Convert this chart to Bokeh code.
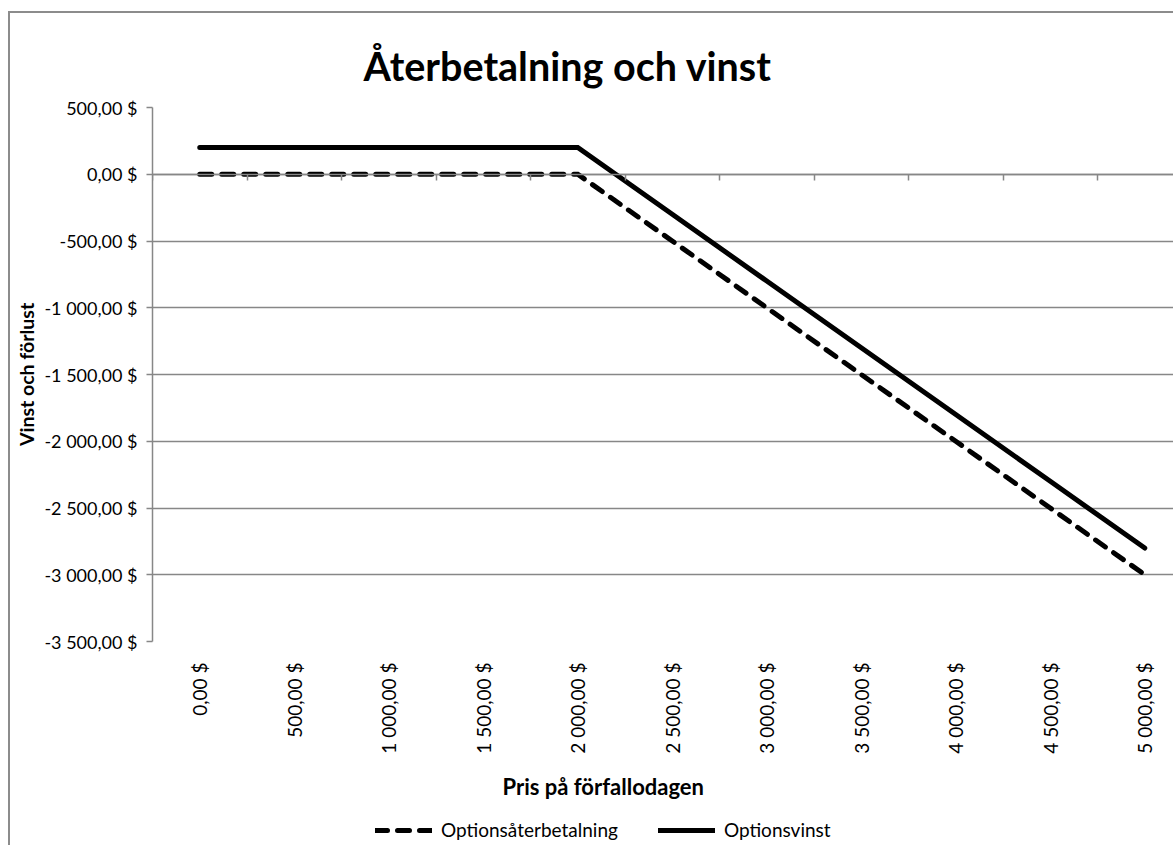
import math
from bokeh.plotting import figure
from bokeh.models import Range1d, FixedTicker, LinearAxis, Legend, LegendItem, Title
from bokeh.layouts import column
from bokeh.embed import file_html
from bokeh.resources import INLINE

# ---- data ----
prices = [0, 500, 1000, 1500, 2000, 2500, 3000, 3500, 4000, 4500, 5000]
price_labels = ["0,00 $", "500,00 $", "1 000,00 $", "1 500,00 $", "2 000,00 $",
                "2 500,00 $", "3 000,00 $", "3 500,00 $", "4 000,00 $",
                "4 500,00 $", "5 000,00 $"]
payoff = [0, 0, 0, 0, 0, -500, -1000, -1500, -2000, -2500, -3000]
profit = [200, 200, 200, 200, 200, -300, -800, -1300, -1800, -2300, -2800]
y_ticks = [500, 0, -500, -1000, -1500, -2000, -2500, -3000, -3500]
y_labels = ["500,00 $", "0,00 $", "-500,00 $", "-1 000,00 $", "-1 500,00 $",
            "-2 000,00 $", "-2 500,00 $", "-3 000,00 $", "-3 500,00 $"]
series_names = ["Optionsåterbetalning", "Optionsvinst"]
title_text = "Återbetalning och vinst"
x_title = "Pris på förfallodagen"
y_title = "Vinst och förlust"

FONT = "Lato"
GRID = "#878787"
W = 1163

half = (prices[1] - prices[0]) / 2
boundaries = [p - half for p in prices] + [prices[-1] + half]

p = figure(width=W, height=804,
           x_range=Range1d(prices[0] - half, 5152),
           y_range=Range1d(min(y_ticks), max(y_ticks)),
           output_backend="svg", toolbar_location=None,
           min_border_left=142, min_border_top=94, min_border_bottom=176,
           min_border_right=0)
p.outline_line_color = None
p.background_fill_color = "white"
p.border_fill_color = "white"

# main title
p.title.text = title_text
p.title.align = "left"
p.title.offset = 211
p.title.vertical_align = "middle"
p.title.standoff = 36
p.title.text_font = FONT
p.title.text_font_size = "39.5px"
p.title.text_font_style = "bold"
p.title.text_color = "black"

# category axis labels (bottom)
xa = p.xaxis[0]
xa.ticker = FixedTicker(ticks=prices)
xa.major_label_overrides = {pr: lb for pr, lb in zip(prices, price_labels)}
xa.major_label_orientation = math.pi / 2
xa.axis_line_color = None
xa.major_tick_line_color = None
xa.major_tick_out = 0
xa.major_tick_in = 0
xa.minor_tick_line_color = None
xa.minor_tick_out = 0
xa.major_label_standoff = 21
xa.major_label_text_font = FONT
xa.major_label_text_font_size = "19px"
xa.major_label_text_color = "black"

# value axis
ya = p.yaxis[0]
ya.ticker = FixedTicker(ticks=y_ticks)
ya.major_label_overrides = {t: lb for t, lb in zip(y_ticks, y_labels)}
ya.axis_line_color = GRID
ya.axis_line_width = 1.5
ya.major_tick_line_color = GRID
ya.major_tick_line_width = 1.5
ya.major_tick_out = 6
ya.major_tick_in = 0
ya.minor_tick_line_color = None
ya.minor_tick_out = 0
ya.major_label_standoff = 9
ya.major_label_text_font = FONT
ya.major_label_text_font_size = "18px"
ya.major_label_text_color = "black"
ya.axis_label = y_title
ya.axis_label_standoff = 3
ya.axis_label_text_font = FONT
ya.axis_label_text_font_size = "19.5px"
ya.axis_label_text_font_style = "bold"
ya.axis_label_text_color = "black"

# category axis line crossing at zero, with boundary tick marks
za = LinearAxis(fixed_location=0, ticker=FixedTicker(ticks=boundaries),
                major_label_overrides={b: "" for b in boundaries},
                major_label_text_font_size="0px",
                axis_line_color=GRID, axis_line_width=1.5,
                major_tick_line_color=GRID, major_tick_line_width=1.5,
                major_tick_out=6, major_tick_in=0,
                minor_tick_line_color=None)
p.add_layout(za, "below")

# x axis title
xt = Title(text=x_title, align="left", offset=350, vertical_align="middle",
           standoff=30, text_font=FONT, text_font_size="22px",
           text_font_style="bold", text_color="black")
p.add_layout(xt, "below")

p.xgrid.visible = False
p.ygrid.ticker = FixedTicker(ticks=y_ticks)
p.ygrid.grid_line_color = GRID
p.ygrid.grid_line_width = 1.5

line_styles = [dict(line_dash="12 10"), dict(line_dash="solid")]
series = [payoff, profit]

renderers = []
for ys, st in zip(series, line_styles):
    renderers.append(p.line(prices, ys, line_color="black", line_width=5,
                            line_cap="round", line_join="miter", **st))

# legend strip below the chart (its samples reuse the series, kept out of view)
lg = figure(width=W, height=28, output_backend="svg", toolbar_location=None,
            x_axis_location=None, y_axis_location=None, min_border=0,
            x_range=Range1d(0, 1), y_range=Range1d(100000, 100001))
lg.grid.visible = False
lg.outline_line_color = None
lg.border_fill_color = "white"
samples = []
for ys, st in zip(series, line_styles):
    samples.append(lg.line(prices, ys, line_color="black", line_width=5,
                           line_cap="round", **st))
legend = Legend(items=[LegendItem(label=n, renderers=[r])
                       for n, r in zip(series_names, samples)],
                orientation="horizontal", location=(223, 4),
                glyph_width=57, glyph_height=18, label_standoff=9,
                spacing=40, padding=0, margin=0,
                border_line_color=None, background_fill_alpha=0,
                label_text_font=FONT, label_text_font_size="19px",
                label_text_color="black")
lg.add_layout(legend)

layout = column(p, lg, spacing=0,
                styles={"border-top": "2px solid #8c8c8c",
                        "border-left": "2px solid #8c8c8c",
                        "margin-top": "11px", "margin-left": "8px"})

open("out.html", "w").write(file_html(layout, INLINE))
